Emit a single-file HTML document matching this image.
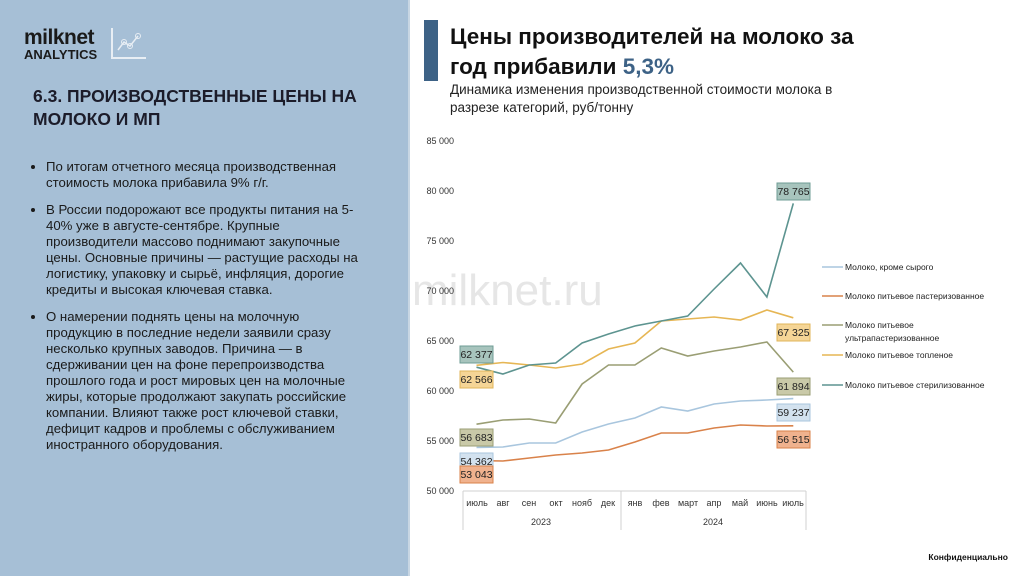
<!DOCTYPE html>
<html><head><meta charset="utf-8"><style>
body{margin:0;width:1024px;height:576px;position:relative;overflow:hidden;background:#fff;font-family:"Liberation Sans","Noto Sans CJK SC",sans-serif}
.left{position:absolute;left:0;top:0;width:410px;height:576px;background:#a6bfd6}
.logo{position:absolute;left:24px;top:28px;font-weight:bold;color:#1a1a1a}
h1{position:absolute;left:33px;top:85px;margin:0;font-size:17.5px;line-height:23px;color:#1c1c2a;font-weight:bold;width:360px}
ul{position:absolute;left:26px;top:159px;margin:0;padding-left:20px;width:370px;font-size:13.2px;line-height:16px;color:#1a1a1a;white-space:nowrap}
li{margin-bottom:11px}
.bar{position:absolute;left:424px;top:20px;width:14px;height:61px;background:#3d6286}
.t{position:absolute;left:450px;top:22px;font-size:22.5px;font-weight:bold;line-height:30px;color:#111}
.sub{position:absolute;left:450px;top:81px;font-size:13.5px;line-height:18px;color:#222}
</style></head><body>
<div class="left"></div>
<div style="position:absolute;left:408px;top:0;width:2px;height:576px;background:#c8d6e3"></div>
<div class="logo"><div style="font-size:21px;line-height:20px;letter-spacing:-0.5px">milknet</div><div style="font-size:13px;line-height:14px">ANALYTICS</div></div>
<svg style="position:absolute;left:108px;top:24px" width="40" height="40"><path d="M4 4V34H38" stroke="#e8eef4" stroke-width="2" fill="none"/><polyline points="10,26 16,18 22,22 30,12" stroke="#e8eef4" stroke-width="1.5" fill="none"/><circle cx="16" cy="18" r="2.5" fill="none" stroke="#e8eef4"/><circle cx="22" cy="22" r="2.5" fill="none" stroke="#e8eef4"/><circle cx="30" cy="12" r="2.5" fill="none" stroke="#e8eef4"/></svg>
<h1>6.3. ПРОИЗВОДСТВЕННЫЕ ЦЕНЫ НА<br>МОЛОКО И МП</h1>
<ul>
<li>По итогам отчетного месяца производственная<br>стоимость молока прибавила 9% г/г.</li>
<li>В России подорожают все продукты питания на 5-<br>40% уже в августе-сентябре. Крупные<br>производители массово поднимают закупочные<br>цены. Основные причины — растущие расходы на<br>логистику, упаковку и сырьё, инфляция, дорогие<br>кредиты и высокая ключевая ставка.</li>
<li>О намерении поднять цены на молочную<br>продукцию в последние недели заявили сразу<br>несколько крупных заводов. Причина — в<br>сдерживании цен на фоне перепроизводства<br>прошлого года и рост мировых цен на молочные<br>жиры, которые продолжают закупать российские<br>компании. Влияют также рост ключевой ставки,<br>дефицит кадров и проблемы с обслуживанием<br>иностранного оборудования.</li>
</ul>
<div class="bar"></div>
<div class="t">Цены производителей на молоко за<br>год прибавили <span style="color:#3d6286">5,3%</span></div>
<div class="sub">Динамика изменения производственной стоимости молока в<br>разрезе категорий, руб/тонну</div>
<svg style="position:absolute;left:0;top:0" width="1024" height="576" font-family="Liberation Sans, sans-serif">
<text x="412" y="305" font-size="44" fill="#e6e6e6">milknet.ru</text>
<g font-size="9" fill="#333" text-anchor="end">
<text x="454" y="144">85 000</text><text x="454" y="194">80 000</text><text x="454" y="244">75 000</text><text x="454" y="294">70 000</text><text x="454" y="344">65 000</text><text x="454" y="394">60 000</text><text x="454" y="444">55 000</text><text x="454" y="494">50 000</text>
</g>
<g stroke="#d0d0d0" fill="none"><path d="M463 491H806M463 491V530M621 491V530M806 491V530"/></g>
<g font-size="9" fill="#333" text-anchor="middle">
<text x="477" y="506">июль</text><text x="503" y="506">авг</text><text x="529" y="506">сен</text><text x="556" y="506">окт</text><text x="582" y="506">нояб</text><text x="608" y="506">дек</text><text x="635" y="506">янв</text><text x="661" y="506">фев</text><text x="688" y="506">март</text><text x="714" y="506">апр</text><text x="740" y="506">май</text><text x="767" y="506">июнь</text><text x="793" y="506">июль</text>
<text x="541" y="525">2023</text><text x="713" y="525">2024</text>
</g>
<g fill="none" stroke-width="1.6">
<polyline stroke="#e6b654" points="476.5,365.3 502.9,362.5 529.3,365 555.7,368 582.1,364 608.5,349 634.9,343 661.3,321 687.7,319 714.1,317 740.5,320 766.9,310 793.3,317.8"/>
<polyline stroke="#9a9e74" points="476.5,424.2 502.9,420 529.3,419 555.7,423 582.1,384 608.5,365 634.9,365 661.3,348 687.7,356 714.1,351 740.5,347 766.9,342 793.3,372.1"/>
<polyline stroke="#a9c6de" points="476.5,447.4 502.9,447 529.3,443 555.7,443 582.1,432 608.5,424 634.9,418 661.3,407 687.7,411 714.1,404 740.5,401 766.9,400 793.3,398.6"/>
<polyline stroke="#d9824a" points="476.5,460.6 502.9,461 529.3,458 555.7,455 582.1,453 608.5,450 634.9,442 661.3,433 687.7,433 714.1,428 740.5,425 766.9,426 793.3,425.8"/>
<polyline stroke="#5d9490" points="476.5,367.2 502.9,374 529.3,365 555.7,363 582.1,343 608.5,334 634.9,326 661.3,321 687.7,316 714.1,289 740.5,263 766.9,297 793.3,203.4"/>
</g>
<g font-size="10.5" text-anchor="middle" fill="#222">
<rect x="460" y="346" width="33" height="17" fill="#a7c4bd" stroke="#6f9c95"/><text x="476.5" y="358">62 377</text>
<rect x="460" y="371" width="33" height="17" fill="#f5d596" stroke="#e0b55a"/><text x="476.5" y="383">62 566</text>
<rect x="460" y="429" width="33" height="17" fill="#c9c9a8" stroke="#9a9e74"/><text x="476.5" y="441">56 683</text>
<rect x="460" y="453" width="33" height="17" fill="#d3e2ef" stroke="#a9c6de"/><text x="476.5" y="465">54 362</text>
<rect x="460" y="466" width="33" height="17" fill="#f0b28e" stroke="#d9824a"/><text x="476.5" y="478">53 043</text>
<rect x="777" y="183" width="33" height="17" fill="#a7c4bd" stroke="#6f9c95"/><text x="793.5" y="195">78 765</text>
<rect x="777" y="324" width="33" height="17" fill="#f5d596" stroke="#e0b55a"/><text x="793.5" y="336">67 325</text>
<rect x="777" y="378" width="33" height="17" fill="#c9c9a8" stroke="#9a9e74"/><text x="793.5" y="390">61 894</text>
<rect x="777" y="404" width="33" height="17" fill="#d3e2ef" stroke="#a9c6de"/><text x="793.5" y="416">59 237</text>
<rect x="777" y="431" width="33" height="17" fill="#f0b28e" stroke="#d9824a"/><text x="793.5" y="443">56 515</text>
</g>
<g stroke-width="1.5">
<line x1="822" y1="267" x2="843" y2="267" stroke="#a9c6de"/>
<line x1="822" y1="296" x2="843" y2="296" stroke="#d9824a"/>
<line x1="822" y1="325" x2="843" y2="325" stroke="#9a9e74"/>
<line x1="822" y1="355" x2="843" y2="355" stroke="#e6b654"/>
<line x1="822" y1="385" x2="843" y2="385" stroke="#5d9490"/>
</g>
<g font-size="8.5" fill="#222">
<text x="845" y="270">Молоко, кроме сырого</text>
<text x="845" y="299">Молоко питьевое пастеризованное</text>
<text x="845" y="328">Молоко питьевое</text>
<text x="845" y="341">ультрапастеризованное</text>
<text x="845" y="358">Молоко питьевое топленое</text>
<text x="845" y="388">Молоко питьевое стерилизованное</text>
</g>
<text x="1008" y="560" font-size="8.5" font-weight="bold" text-anchor="end" fill="#111">Конфиденциально</text>
</svg>
</body></html>
